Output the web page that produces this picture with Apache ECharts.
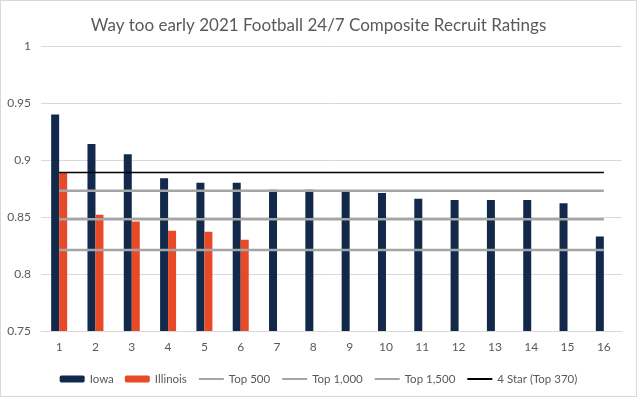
<!DOCTYPE html>
<html>
<head>
<meta charset="utf-8">
<script src="https://cdn.jsdelivr.net/npm/echarts@6/dist/echarts.min.js"></script>
<style>
  html, body { margin: 0; padding: 0; background: #fff; }
  #chart { width: 637px; height: 397px; box-sizing: border-box; border: 1px solid #d9d9d9; }
</style>
</head>
<body>
<div id="chart"></div>
<script>
// 数据
const categories = ['1','2','3','4','5','6','7','8','9','10','11','12','13','14','15','16']
const iowa = [0.940, 0.914, 0.905, 0.884, 0.880, 0.880, 0.874, 0.874, 0.872, 0.871, 0.866, 0.865, 0.865, 0.865, 0.862, 0.833]
const illinois = [0.889, 0.852, 0.846, 0.838, 0.837, 0.830, null, null, null, null, null, null, null, null, null, null]
const top500 = [0.873, 0.873, 0.873, 0.873, 0.873, 0.873, 0.873, 0.873, 0.873, 0.873, 0.873, 0.873, 0.873, 0.873, 0.873, 0.873]
const top1000 = [0.848, 0.848, 0.848, 0.848, 0.848, 0.848, 0.848, 0.848, 0.848, 0.848, 0.848, 0.848, 0.848, 0.848, 0.848, 0.848]
const top1500 = [0.821, 0.821, 0.821, 0.821, 0.821, 0.821, 0.821, 0.821, 0.821, 0.821, 0.821, 0.821, 0.821, 0.821, 0.821, 0.821]
const fourStar = [0.889, 0.889, 0.889, 0.889, 0.889, 0.889, 0.889, 0.889, 0.889, 0.889, 0.889, 0.889, 0.889, 0.889, 0.889, 0.889]

const font = 'Lato, "Open Sans", sans-serif'
const textColor = '#595959'

const chart = echarts.init(document.getElementById('chart'))

// 参考线
const refLine = (name, data, color, width) => ({
  name,
  type: 'line',
  data,
  symbol: 'none',
  z: 3,
  lineStyle: { color, width },
  itemStyle: { color },
  emphasis: { disabled: true }
})

// 图例项（线条不显示圆点）
const lineLegend = name => ({ name, itemStyle: { opacity: 0 } })

chart.setOption({
  animation: false,
  textStyle: { fontFamily: font },
  title: {
    text: 'Way too early 2021 Football 24/7 Composite Recruit Ratings',
    left: 'center',
    top: 11,
    textStyle: { fontFamily: font, fontSize: 17, fontWeight: 'normal', color: textColor }
  },
  legend: {
    top: 367,
    left: 'center',
    itemWidth: 25,
    itemHeight: 7,
    itemGap: 11,
    textStyle: { fontFamily: font, fontSize: 11.5, color: textColor },
    data: [
      'Iowa',
      'Illinois',
      lineLegend('Top 500'),
      lineLegend('Top 1,000'),
      lineLegend('Top 1,500'),
      lineLegend('4 Star (Top 370)')
    ]
  },
  grid: { left: 40, right: 14, top: 45, bottom: 65 },
  xAxis: {
    type: 'category',
    data: categories,
    axisLine: { lineStyle: { color: '#d9d9d9' } },
    axisTick: { show: false },
    axisLabel: { color: textColor, fontSize: 12, fontFamily: font, margin: 10 }
  },
  yAxis: {
    type: 'value',
    min: 0.75,
    max: 1,
    interval: 0.05,
    axisLine: { show: false },
    axisTick: { show: false },
    splitLine: { lineStyle: { color: '#d9d9d9' } },
    axisLabel: { color: textColor, fontSize: 12, fontFamily: font, margin: 10 }
  },
  series: [
    { name: 'Iowa', type: 'bar', data: iowa, barWidth: 8, barGap: '0%', itemStyle: { color: '#13294b' } },
    { name: 'Illinois', type: 'bar', data: illinois, barWidth: 8, barGap: '0%', itemStyle: { color: '#e84a27' } },
    refLine('Top 500', top500, '#a5a5a5', 2.5),
    refLine('Top 1,000', top1000, '#a5a5a5', 2.5),
    refLine('Top 1,500', top1500, '#a5a5a5', 2.5),
    refLine('4 Star (Top 370)', fourStar, '#000000', 1.5)
  ]
})
</script>
</body>
</html>
